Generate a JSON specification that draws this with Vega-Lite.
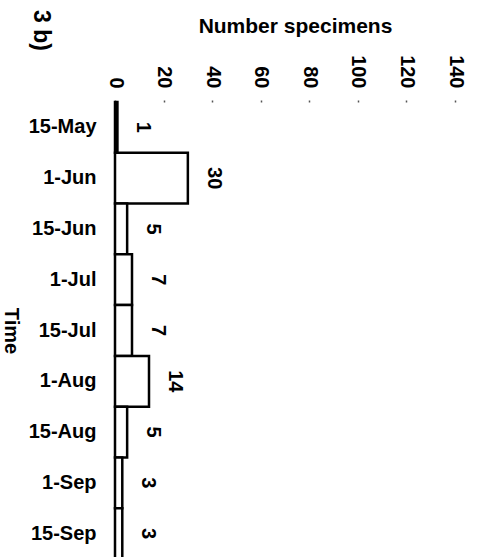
{
  "$schema": "https://vega.github.io/schema/vega-lite/v6.json",
  "width": 340,
  "height": 457,
  "autosize": "none",
  "padding": {"left": 115, "top": 102, "right": 24, "bottom": 0},
  "background": "white",
  "title": {
    "text": "3 b)",
    "orient": "right",
    "anchor": "start",
    "frame": "group",
    "dx": -92,
    "dy": 440,
    "font": "Liberation Sans",
    "fontSize": 23,
    "fontWeight": "bold",
    "color": "black"
  },
  "config": {
    "view": {"stroke": null},
    "axis": {
      "labelFont": "Liberation Sans",
      "titleFont": "Liberation Sans",
      "labelColor": "black",
      "titleColor": "black",
      "grid": false,
      "domain": false
    }
  },
  "data": {
    "values": [
      {"time": "15-May", "count": 1},
      {"time": "1-Jun", "count": 30},
      {"time": "15-Jun", "count": 5},
      {"time": "1-Jul", "count": 7},
      {"time": "15-Jul", "count": 7},
      {"time": "1-Aug", "count": 14},
      {"time": "15-Aug", "count": 5},
      {"time": "1-Sep", "count": 3},
      {"time": "15-Sep", "count": 3}
    ]
  },
  "encoding": {
    "y": {
      "field": "time",
      "type": "nominal",
      "sort": null,
      "scale": {"paddingInner": 0, "paddingOuter": 0},
      "axis": {
        "title": "Time",
        "titleAngle": 90,
        "titleBaseline": "top",
        "titleFontSize": 20,
        "titleFontWeight": "bold",
        "titlePadding": 8,
        "labelFontSize": 20,
        "labelFontWeight": "bold",
        "labelPadding": 19,
        "ticks": false,
        "tickSize": 0
      }
    }
  },
  "layer": [
    {
      "mark": {"type": "bar", "fill": "white", "stroke": "black", "strokeWidth": 2.5},
      "encoding": {
        "x": {
          "field": "count",
          "type": "quantitative",
          "scale": {"domain": [0, 140], "nice": false},
          "axis": {
            "orient": "top",
            "title": "Number specimens",
            "titleFontSize": 21,
            "titleFontWeight": "bold",
            "titlePadding": 18,
            "titleX": 180,
            "values": [0, 20, 40, 60, 80, 100, 120, 140],
            "format": "d",
            "labelAngle": 90,
            "labelAlign": "right",
            "labelBaseline": "middle",
            "labelFontSize": 20,
            "labelFontWeight": "bold",
            "labelPadding": 12,
            "tickSize": 2,
            "tickWidth": 1.5,
            "tickColor": "#555"
          }
        }
      }
    },
    {
      "mark": {
        "type": "text",
        "angle": 90,
        "align": "center",
        "baseline": "middle",
        "dy": -26,
        "font": "Liberation Sans",
        "fontSize": 20,
        "fontWeight": "bold",
        "color": "black"
      },
      "encoding": {
        "x": {"field": "count", "type": "quantitative"},
        "text": {"field": "count", "type": "quantitative"}
      }
    }
  ]
}
